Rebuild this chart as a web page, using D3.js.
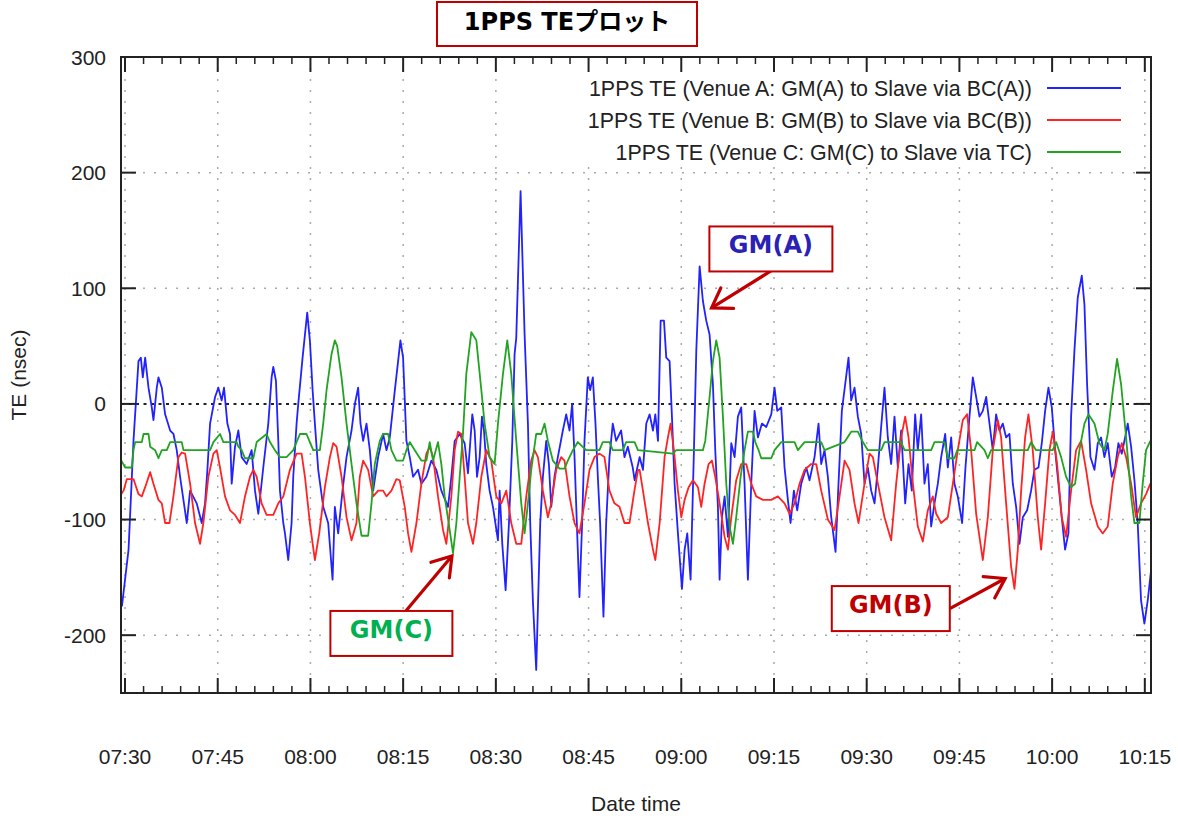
<!DOCTYPE html>
<html>
<head>
<meta charset="utf-8">
<script src="https://cdn.jsdelivr.net/npm/d3@7"></script>
<style>
  body { margin: 0; background: #fff; }
  svg text { font-family: "Liberation Sans", Arial, sans-serif; fill: #222; }
</style>
</head>
<body>
<svg id="chart" width="1178" height="816"></svg>
<script>
/// Data: [minutes after 07:30, TE in nsec]
const startTime = new Date(2017, 0, 1, 7, 30, 0);

const teVenueA = [
  [-0.5,-175],[0.57,-126],[1.37,-32],[2.18,37],[2.56,40],[2.88,23],[3.26,40],[3.8,14],[4.33,-3],[4.6,-14],
  [4.87,0],[5.14,14],[5.41,23],[5.95,14],[6.49,-9],[7.3,-23],[7.84,-26],[8.37,-40],[8.91,-63],[9.99,-103],
  [10.53,-75],[11.6,-86],[12.41,-103],[12.95,-86],[13.33,-57],[13.76,-17],[14.57,6],[15.1,14],[15.64,3],[16.02,14],
  [16.56,-17],[16.99,-26],[17.26,-69],[17.8,-37],[18.34,-23],[18.87,-46],[19.68,-52],[20.49,-40],[21.03,-75],[21.57,-95],
  [22.37,-55],[23.18,-17],[23.72,23],[23.99,32],[24.42,20],[24.8,-32],[25.07,-75],[25.61,-103],[25.88,-112],[26.41,-135],
  [26.95,-103],[27.22,-63],[27.76,-17],[28.03,0],[28.73,40],[29.48,79],[29.91,55],[30.35,12],[30.72,-17],[31.26,-57],
  [32.07,-89],[32.87,-103],[33.58,-152],[33.95,-89],[34.49,-112],[35.19,-75],[35.84,-46],[36.65,-23],[37.19,0],[37.72,14],
  [38.1,-17],[38.53,-32],[39.07,-17],[39.61,-40],[40.15,-75],[40.95,-46],[41.76,-26],[42.3,-40],[42.84,-29],[43.64,11],
  [44.56,55],[44.99,40],[45.53,-32],[46.07,-46],[46.61,-63],[47.41,-57],[47.95,-69],[48.76,-63],[49.57,-49],[50.37,-57],
  [51.18,-75],[52.26,-89],[52.8,-63],[53.34,-32],[54.15,-26],[54.95,-34],[55.49,-60],[56.19,-9],[56.57,-23],[56.95,-63],
  [57.38,-46],[57.75,-11],[58.08,-23],[58.45,-52],[58.99,-75],[59.53,-89],[60.34,-118],[60.61,-75],[61.04,-121],[61.58,-161],
  [62.12,-103],[62.66,-32],[63.03,43],[63.3,57],[64.0,184],[64.65,60],[65.19,-17],[65.56,-103],[65.99,-170],[66.53,-230],
  [67.18,-103],[67.61,-63],[68.15,-32],[68.58,-52],[68.96,-89],[69.49,-63],[70.03,-46],[70.84,-23],[71.38,-9],[71.92,-23],
  [72.35,0],[72.73,-46],[73.1,-103],[73.53,-167],[73.96,-103],[74.34,-32],[74.88,23],[75.26,12],[75.69,23],[76.12,-17],
  [76.5,-63],[76.87,-103],[77.41,-184],[77.85,-103],[78.38,-46],[78.92,-17],[79.46,-32],[80.27,-23],[80.81,-46],[81.35,-37],
  [82.15,-55],[82.45,-66],[83.26,-46],[83.8,-57],[84.34,-17],[84.88,-9],[85.42,-23],[85.8,-9],[86.23,-32],[86.66,72],
  [87.2,72],[87.57,40],[88.11,37],[88.49,-11],[88.92,-69],[89.46,-112],[90.11,-160],[90.54,-126],[90.97,-112],[91.51,-152],
  [92.05,-40],[92.43,46],[92.97,119],[93.5,89],[94.04,72],[94.58,60],[95.12,17],[95.5,-40],[95.93,-89],[96.2,-152],
  [96.58,-98],[97.01,-80],[97.55,-115],[98.09,-34],[98.63,-46],[99.16,-11],[99.7,-3],[100.24,-69],[100.78,-152],[101.32,-69],
  [101.86,-6],[102.4,-29],[103.05,-17],[103.75,-20],[104.56,-9],[105.09,14],[105.53,-6],[106.17,-3],[106.71,-55],[107.25,-83],
  [107.68,-103],[108.22,-75],[108.76,-92],[109.41,-69],[110.22,-55],[110.75,-66],[111.56,-46],[112.21,-17],[112.64,-52],[113.18,-40],
  [113.72,-63],[114.26,-98],[114.96,-128],[115.44,-69],[115.98,-6],[116.52,17],[117.06,40],[117.49,3],[118.03,14],[118.57,-11],
  [119.11,-26],[119.65,-69],[120.19,-55],[120.73,-75],[121.27,-86],[121.81,-55],[122.34,-20],[122.88,14],[123.42,-29],[123.96,-52],
  [124.5,-11],[125.04,-55],[125.58,-23],[126.23,-86],[126.77,-52],[127.3,-75],[127.84,-9],[128.27,-40],[128.81,-9],[129.35,-69],
  [129.89,-52],[130.43,-106],[130.97,-86],[131.51,-69],[132.05,-46],[132.7,-26],[133.13,-55],[133.67,-29],[134.2,-69],[134.74,-80],
  [135.44,-103],[135.98,-55],[136.63,-11],[137.17,23],[137.71,6],[138.25,-11],[138.79,-6],[139.33,6],[139.87,-17],[140.4,-40],
  [140.94,-9],[141.48,-23],[142.02,-17],[142.56,-29],[143.1,-26],[143.64,-69],[144.18,-89],[144.72,-121],[145.26,-98],[145.96,-92],
  [146.6,-75],[147.14,-57],[147.79,-55],[148.33,-34],[148.87,-6],[149.41,14],[149.95,-3],[150.49,-40],[151.02,-69],[151.56,-98],
  [152.1,-126],[152.64,-112],[153.07,-11],[153.61,46],[154.15,92],[154.8,111],[155.23,86],[155.66,17],[156.2,-46],[156.85,-57],
  [157.39,-34],[157.92,-29],[158.46,-46],[159.0,-34],[159.65,-63],[160.19,-55],[160.73,-34],[161.27,-43],[161.81,-29],[162.24,-17],
  [162.78,-37],[163.32,-66],[163.85,-103],[164.39,-170],[164.93,-190],[165.47,-170],[166.01,-144]
];

const teVenueB = [
  [-0.6,-78],[-0.24,-75],[0.3,-65],[1.37,-65],[2.18,-78],[2.72,-80],[3.26,-72],[4.07,-59],[4.6,-69],[5.41,-83],
  [5.95,-86],[6.49,-103],[7.19,-103],[7.83,-80],[8.64,-46],[9.18,-42],[9.72,-43],[10.53,-69],[11.33,-103],[12.14,-121],
  [12.68,-103],[13.49,-63],[14.3,-43],[14.84,-40],[15.37,-55],[16.18,-80],[16.99,-92],[17.8,-96],[18.6,-103],[19.41,-80],
  [20.22,-63],[20.76,-57],[21.3,-63],[22.1,-86],[22.91,-96],[23.99,-96],[24.8,-86],[25.61,-80],[26.68,-57],[27.76,-43],
  [28.57,-43],[29.11,-63],[29.91,-103],[30.72,-135],[31.42,-112],[32.34,-72],[33.15,-46],[33.68,-34],[34.22,-37],[35.03,-63],
  [35.84,-98],[36.65,-118],[37.45,-103],[37.99,-63],[38.53,-49],[39.34,-57],[40.15,-80],[40.95,-75],[41.76,-75],[42.3,-80],
  [43.11,-75],[43.91,-65],[44.45,-66],[45.26,-89],[45.8,-112],[46.34,-128],[47.15,-103],[47.95,-69],[48.76,-43],[49.3,-37],
  [49.84,-46],[50.64,-80],[51.45,-109],[51.99,-121],[52.8,-80],[53.34,-40],[53.88,-24],[54.41,-26],[54.95,-63],[55.49,-103],
  [56.3,-121],[56.84,-103],[57.65,-63],[58.45,-40],[59.26,-49],[60.07,-80],[60.88,-86],[61.69,-75],[62.49,-103],[63.3,-121],
  [64.11,-121],[64.92,-80],[65.72,-49],[66.26,-40],[66.8,-46],[67.61,-75],[68.42,-98],[68.96,-86],[69.76,-57],[70.57,-46],
  [71.11,-49],[71.92,-80],[72.73,-103],[73.53,-112],[74.34,-86],[75.15,-57],[75.96,-46],[76.76,-43],[77.57,-46],[78.38,-75],
  [79.19,-86],[80.0,-89],[80.81,-103],[81.62,-103],[82.42,-75],[83.0,-57],[83.26,-57],[83.8,-75],[84.61,-103],[85.42,-126],
  [85.8,-135],[86.5,-103],[87.3,-46],[87.84,-29],[88.27,-17],[88.81,-40],[89.46,-75],[90.0,-98],[90.54,-83],[91.19,-72],
  [91.89,-66],[92.7,-72],[93.23,-89],[93.77,-69],[94.42,-52],[94.96,-49],[95.5,-63],[96.2,-86],[97.01,-115],[97.55,-126],
  [98.09,-98],[98.89,-66],[99.7,-52],[100.51,-52],[101.32,-69],[102.13,-80],[103.21,-83],[104.56,-83],[105.63,-80],[106.71,-86],
  [107.52,-95],[108.33,-86],[109.14,-69],[109.95,-57],[111.02,-52],[111.83,-52],[112.64,-75],[113.72,-100],[114.8,-109],[115.61,-80],
  [116.42,-49],[117.22,-57],[118.03,-86],[118.68,-103],[119.65,-69],[120.46,-43],[121.0,-46],[121.81,-69],[122.88,-98],[123.96,-118],
  [124.77,-69],[125.58,-29],[126.23,-11],[126.77,-29],[127.47,-69],[128.27,-106],[129.08,-119],[129.89,-92],[130.7,-80],[131.24,-95],
  [132.05,-103],[133.13,-98],[133.94,-69],[134.74,-40],[135.55,-14],[136.25,-9],[136.9,-40],[137.71,-95],[138.79,-135],[139.6,-98],
  [140.4,-40],[141.21,-14],[141.75,-29],[142.56,-86],[143.37,-141],[143.91,-160],[144.45,-126],[144.99,-75],[145.63,-29],[146.17,-9],
  [146.87,-40],[147.68,-98],[148.22,-126],[148.87,-86],[149.57,-40],[150.11,-24],[150.81,-52],[151.56,-98],[152.26,-115],[153.07,-75],
  [153.88,-40],[154.69,-32],[155.5,-57],[156.31,-86],[157.39,-106],[158.19,-112],[159.0,-106],[159.81,-69],[160.62,-46],[161.27,-34],
  [161.97,-46],[162.78,-69],[163.58,-98],[164.39,-86],[165.2,-78],[165.9,-69]
];

const teVenueC = [
  [-0.6,-49],[0.03,-55],[1.1,-55],[1.37,-40],[1.64,-33],[2.72,-33],[2.99,-26],[3.8,-26],[4.07,-37],[4.87,-40],
  [5.41,-47],[5.95,-40],[6.76,-40],[7.3,-33],[9.18,-33],[9.45,-40],[13.76,-40],[14.3,-33],[15.37,-26],[15.91,-33],
  [18.07,-33],[18.34,-37],[18.87,-40],[19.41,-47],[20.76,-47],[21.3,-33],[22.91,-26],[23.45,-33],[24.26,-40],[25.07,-46],
  [26.14,-46],[27.22,-40],[28.3,-26],[29.37,-26],[29.91,-33],[30.45,-40],[31.53,-40],[32.07,-17],[32.61,12],[33.41,43],
  [33.95,55],[34.33,50],[35.03,23],[35.84,-17],[36.65,-52],[37.45,-86],[38.26,-114],[39.34,-114],[39.88,-86],[40.41,-52],
  [41.22,-32],[41.76,-26],[42.57,-26],[43.11,-40],[43.91,-49],[44.99,-49],[45.53,-40],[46.07,-33],[46.88,-40],[47.95,-49],
  [48.76,-49],[49.3,-33],[49.84,-49],[50.64,-33],[51.18,-52],[51.72,-80],[52.53,-109],[53.07,-129],[53.61,-103],[54.15,-63],
  [54.68,-26],[55.22,26],[56.03,62],[56.84,55],[57.65,12],[58.18,-17],[58.99,-46],[59.8,-52],[60.34,-17],[61.15,26],
  [61.85,55],[62.49,26],[63.3,-32],[64.11,-86],[64.65,-112],[65.19,-86],[65.72,-57],[66.53,-26],[67.34,-26],[67.88,-17],
  [68.42,-32],[69.22,-49],[70.3,-56],[71.11,-56],[71.65,-49],[72.46,-40],[73.26,-33],[74.61,-40],[76.76,-40],[77.3,-33],
  [78.38,-33],[78.92,-40],[80.54,-40],[81.08,-33],[82.45,-33],[82.99,-40],[88.65,-43],[89.19,-40],[93.5,-40],[93.88,-32],
  [94.58,6],[95.12,37],[95.66,55],[96.2,40],[96.74,-11],[97.28,-69],[97.82,-106],[98.36,-121],[98.89,-98],[99.6,-63],
  [100.24,-40],[100.78,-24],[101.59,-24],[101.97,-33],[102.51,-40],[102.94,-47],[104.56,-47],[105.09,-40],[106.17,-33],[108.33,-33],
  [108.87,-40],[109.95,-33],[112.64,-33],[113.18,-40],[116.42,-33],[117.49,-24],[118.57,-24],[119.38,-33],[120.19,-40],[122.34,-40],
  [122.88,-33],[125.58,-33],[126.12,-40],[130.43,-40],[130.97,-33],[132.59,-33],[133.13,-47],[134.2,-47],[134.64,-40],[137.44,-40],
  [137.87,-33],[139.06,-40],[139.6,-47],[140.13,-40],[146.06,-40],[146.6,-33],[147.41,-40],[150.11,-40],[150.65,-33],[151.46,-46],
  [152.26,-63],[153.07,-72],[153.72,-69],[154.42,-40],[155.23,-17],[155.88,-9],[156.85,-17],[157.65,-34],[158.46,-40],[159.0,-26],
  [159.81,11],[160.51,39],[161.16,17],[161.97,-29],[162.78,-80],[163.32,-103],[164.12,-103],[164.66,-69],[165.2,-40],[165.9,-32]
];

const seriesLabels = [
  "1PPS TE (Venue A: GM(A) to Slave via BC(A))",
  "1PPS TE (Venue B: GM(B) to Slave via BC(B))",
  "1PPS TE (Venue C: GM(C) to Slave via TC)"
];
const yTickValues = [-200, -100, 0, 100, 200, 300];

/// Callouts: box centre and arrow tip in data units
const callouts = [
  {text: "GM(A)", color: "#2a22b4", t: 104.5, v: 134,  tipT: 94.9,  tipV: 83,    w: 123, h: 45, tail: [0, 22]},
  {text: "GM(B)", color: "#c00000", t: 123.9, v: -177, tipT: 142.4, tipV: -151,  w: 118, h: 45, tail: [59, 0]},
  {text: "GM(C)", color: "#00b050", t: 43.1,  v: -198.5, tipT: 52.9, tipV: -131.5, w: 122, h: 45, tail: [14, -22]}
];

const colors = ["#2222ff", "#ff2424", "#22a322"];
const at = m => new Date(startTime.getTime() + m * 60000);

const svg = d3.select("#chart");
const plot = {left: 121, right: 1151, top: 57, bottom: 693};

const x = d3.scaleTime()
    .domain([at(-0.65), at(166)])
    .range([plot.left, plot.right]);
const y = d3.scaleLinear()
    .domain([-250, 300])
    .range([plot.bottom, plot.top]);

const majorTicks = x.ticks(d3.timeMinute.every(15));
const minorTicks = x.ticks(d3.timeMinute.every(3));

svg.append("defs").append("clipPath").attr("id", "clip")
  .append("rect")
    .attr("x", plot.left).attr("y", plot.top)
    .attr("width", plot.right - plot.left).attr("height", plot.bottom - plot.top);

/// Grid
const grid = svg.append("g")
    .attr("stroke", "#aaa").attr("stroke-width", 1.5).attr("stroke-dasharray", "2,9");
grid.selectAll("line.v").data(majorTicks).enter().append("line")
    .attr("x1", d => x(d)).attr("x2", d => x(d))
    .attr("y1", plot.top).attr("y2", plot.bottom);
grid.selectAll("line.h").data(yTickValues.filter(d => d !== 0 && d !== 300)).enter().append("line")
    .attr("x1", plot.left).attr("x2", plot.right)
    .attr("y1", d => y(d)).attr("y2", d => y(d));

/// Zero line
svg.append("line")
    .attr("x1", plot.left).attr("x2", plot.right)
    .attr("y1", y(0)).attr("y2", y(0))
    .attr("stroke", "#222").attr("stroke-width", 2).attr("stroke-dasharray", "3,4.5");

/// Legend background hides the grid behind it
svg.append("rect")
    .attr("x", 578).attr("y", 62).attr("width", 556).attr("height", 104)
    .attr("fill", "#fff");

/// Series
const line = d3.line()
    .x(d => x(at(d[0])))
    .y(d => y(d[1]));

const lines = svg.append("g").attr("clip-path", "url(#clip)");
[teVenueA, teVenueB, teVenueC].forEach((s, i) => {
  lines.append("path")
      .datum(s)
      .attr("d", line)
      .attr("fill", "none")
      .attr("stroke", colors[i])
      .attr("stroke-width", 1.8)
      .attr("stroke-linejoin", "round");
});

/// Legend
const legend = svg.append("g");
seriesLabels.forEach((lab, i) => {
  const ly = 88 + i * 32;
  legend.append("text")
      .attr("x", 1032).attr("y", ly + 7.5)
      .attr("text-anchor", "end")
      .attr("font-size", 21.4)
      .text(lab);
  legend.append("line")
      .attr("x1", 1047).attr("x2", 1121)
      .attr("y1", ly).attr("y2", ly)
      .attr("stroke", colors[i]).attr("stroke-width", 2);
});

/// Frame and ticks
svg.append("rect")
    .attr("x", plot.left).attr("y", plot.top)
    .attr("width", plot.right - plot.left).attr("height", plot.bottom - plot.top)
    .attr("fill", "none").attr("stroke", "#222").attr("stroke-width", 2);

const ticks = svg.append("g").attr("stroke", "#222");
minorTicks.forEach(d => {
  const major = d.getMinutes() % 15 === 0;
  const len = major ? 15 : 7;
  ticks.append("line").attr("stroke-width", major ? 2 : 1.5)
      .attr("x1", x(d)).attr("x2", x(d))
      .attr("y1", plot.bottom).attr("y2", plot.bottom - len);
  ticks.append("line").attr("stroke-width", major ? 2 : 1.5)
      .attr("x1", x(d)).attr("x2", x(d))
      .attr("y1", plot.top).attr("y2", plot.top + len);
});
yTickValues.forEach(v => {
  ticks.append("line").attr("stroke-width", 2)
      .attr("x1", plot.left).attr("x2", plot.left + 15)
      .attr("y1", y(v)).attr("y2", y(v));
  ticks.append("line").attr("stroke-width", 2)
      .attr("x1", plot.right).attr("x2", plot.right - 15)
      .attr("y1", y(v)).attr("y2", y(v));
});

/// Tick labels
const fmt = d3.timeFormat("%H:%M");
svg.append("g").selectAll("text").data(majorTicks).enter().append("text")
    .attr("x", d => x(d)).attr("y", 764)
    .attr("text-anchor", "middle").attr("font-size", 21)
    .text(d => fmt(d));
svg.append("g").selectAll("text").data(yTickValues).enter().append("text")
    .attr("x", 106).attr("y", d => y(d) + 7.5)
    .attr("text-anchor", "end").attr("font-size", 21)
    .text(d => d);

/// Axis titles
svg.append("text")
    .attr("x", 636).attr("y", 811)
    .attr("text-anchor", "middle").attr("font-size", 21)
    .text("Date time");
svg.append("text")
    .attr("transform", "translate(26,375) rotate(-90)")
    .attr("text-anchor", "middle").attr("font-size", 21)
    .text("TE (nsec)");

/// Title box
svg.append("rect")
    .attr("x", 437).attr("y", 2).attr("width", 260).attr("height", 44)
    .attr("fill", "#fff").attr("stroke", "#c00000").attr("stroke-width", 2);
svg.append("text")
    .attr("x", 567).attr("y", 30)
    .attr("text-anchor", "middle")
    .style("font-family", "'DejaVu Sans','Noto Sans CJK JP',sans-serif")
    .attr("font-weight", "bold").attr("font-size", 24)
    .style("fill", "#000")
    .text("1PPS TEプロット");

/// Callouts with arrows
const notes = svg.append("g");
callouts.forEach(c => {
  const cx = x(at(c.t)), cy = y(c.v);
  const tx = cx + c.tail[0], ty = cy + c.tail[1];
  const px = x(at(c.tipT)), py = y(c.tipV);
  const ang = Math.atan2(ty - py, tx - px);
  const len = 22, spread = 0.58;
  notes.append("line")
      .attr("x1", tx).attr("y1", ty).attr("x2", px).attr("y2", py)
      .attr("stroke", "#c00000").attr("stroke-width", 3.2);
  notes.append("path")
      .attr("d", "M" + (px + len * Math.cos(ang + spread)) + "," + (py + len * Math.sin(ang + spread)) +
                 "L" + px + "," + py +
                 "L" + (px + len * Math.cos(ang - spread)) + "," + (py + len * Math.sin(ang - spread)))
      .attr("fill", "none").attr("stroke", "#c00000").attr("stroke-width", 3.2)
      .attr("stroke-linecap", "round").attr("stroke-linejoin", "miter");
  notes.append("rect")
      .attr("x", cx - c.w / 2).attr("y", cy - c.h / 2)
      .attr("width", c.w).attr("height", c.h)
      .attr("fill", "#fff").attr("stroke", "#c00000").attr("stroke-width", 2);
  notes.append("text")
      .attr("x", cx).attr("y", cy + 4.5)
      .attr("text-anchor", "middle")
      .style("font-family", "'DejaVu Sans',sans-serif")
      .attr("font-weight", "bold").attr("font-size", 24)
      .style("fill", c.color)
      .text(c.text);
});
</script>
</body>
</html>
